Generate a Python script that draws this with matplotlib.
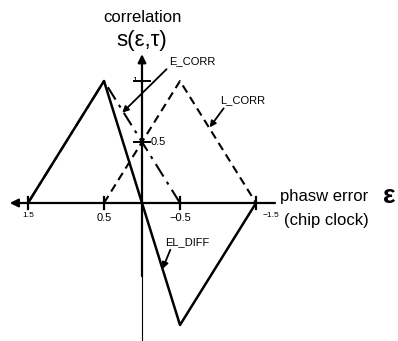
# correlation curves of early / late code vs phase error

import matplotlib.pyplot as plt

plt.rcParams['font.family'] = ['Liberation Sans', 'DejaVu Sans']

# phase error (chip) and correlation values
e_eps = [1.5, 0.5, -0.5]
e_corr = [0, 1, 0]
l_eps = [0.5, -0.5, -1.5]
l_corr = [0, 1, 0]
d_eps = [1.5, 0.5, -0.5, -1.5]
el_diff = [0, 1, -1, 0]

xticks = [1.5, 0.5, -0.5, -1.5]
xlabels = ['1.5', '0.5', '\u22120.5', '\u22121.5']
yticks = [1, 0.5]
ylabels = ['1', '0.5']

fig = plt.figure(figsize=(3.98, 3.41), dpi=100)
ax = fig.add_axes([0, 0, 1, 1])
ax.set_xlim(142 / 76, (142 - 398) / 76)
ax.set_ylim((203 - 341) / 122, 203 / 122)
ax.axis('off')

# axes
ax.annotate('', xy=(1.74, 0), xytext=(-1.75, 0),
            arrowprops=dict(arrowstyle='-|>', color='black', lw=1.6,
                            mutation_scale=12, shrinkA=0, shrinkB=0))
ax.annotate('', xy=(0, 1.22), xytext=(0, -0.6),
            arrowprops=dict(arrowstyle='-|>', color='black', lw=1.6,
                            mutation_scale=12, shrinkA=0, shrinkB=0))
ax.plot([0, 0], [-0.6, -1.2], color='black', lw=0.8)

# ticks
for t in xticks:
    ax.plot([t, t], [-0.05, 0.05], color='black', lw=1.6)
for t in yticks:
    ax.plot([-0.1, 0.1], [t, t], color='black', lw=1.4)

# curves
ax.plot(e_eps, e_corr, color='black', lw=1.5, linestyle=(0, (7, 3, 1.5, 3)))
ax.plot(l_eps, l_corr, color='black', lw=1.5, linestyle=(0, (4, 2.5)))
ax.plot(d_eps, el_diff, color='black', lw=1.8)

# tick labels
ax.text(1.5, -0.07, xlabels[0], fontsize=6, ha='center', va='top')
ax.text(0.5, -0.08, xlabels[1], fontsize=8, ha='center', va='top')
ax.text(-0.5, -0.08, xlabels[2], fontsize=8, ha='center', va='top')
ax.text(-1.58, -0.07, xlabels[3], fontsize=6, ha='left', va='top')
ax.text(0.07, yticks[0], ylabels[0], fontsize=6, ha='right', va='center')
ax.text(-0.12, yticks[1], ylabels[1], fontsize=8, ha='left', va='center')

# titles
ax.text(0, 1.52, 'correlation', fontsize=12, ha='center', va='center')
ax.text(0, 1.33, 's(\u03b5,\u03c4)', fontsize=16, ha='center', va='center')
ax.text(-1.81, 0.05, 'phasw error', fontsize=12, ha='left', va='center')
ax.text(-3.17, 0.055, '\u03b5', fontsize=19, fontweight='bold', ha='left', va='center')
ax.text(-1.87, -0.14, '(chip clock)', fontsize=12, ha='left', va='center')

# curve labels with arrows
ax.annotate('E_CORR', xy=(0.26, 0.74), xytext=(-0.36, 1.16), fontsize=8,
            ha='left', va='center',
            arrowprops=dict(arrowstyle='-|>', color='black', lw=1.3,
                            mutation_scale=9, shrinkA=0, shrinkB=0,
                            relpos=(0.0, 0.0)))
ax.annotate('L_CORR', xy=(-0.89, 0.62), xytext=(-1.03, 0.84), fontsize=8,
            ha='left', va='center',
            arrowprops=dict(arrowstyle='-|>', color='black', lw=1.3,
                            mutation_scale=9, shrinkA=0, shrinkB=0,
                            relpos=(0.12, 0.0)))
ax.annotate('EL_DIFF', xy=(-0.27, -0.54), xytext=(-0.3, -0.32), fontsize=8,
            ha='left', va='center',
            arrowprops=dict(arrowstyle='-|>', color='black', lw=1.3,
                            mutation_scale=9, shrinkA=0, shrinkB=0,
                            relpos=(0.15, 0.0)))

fig.savefig('out.png', dpi=100)
